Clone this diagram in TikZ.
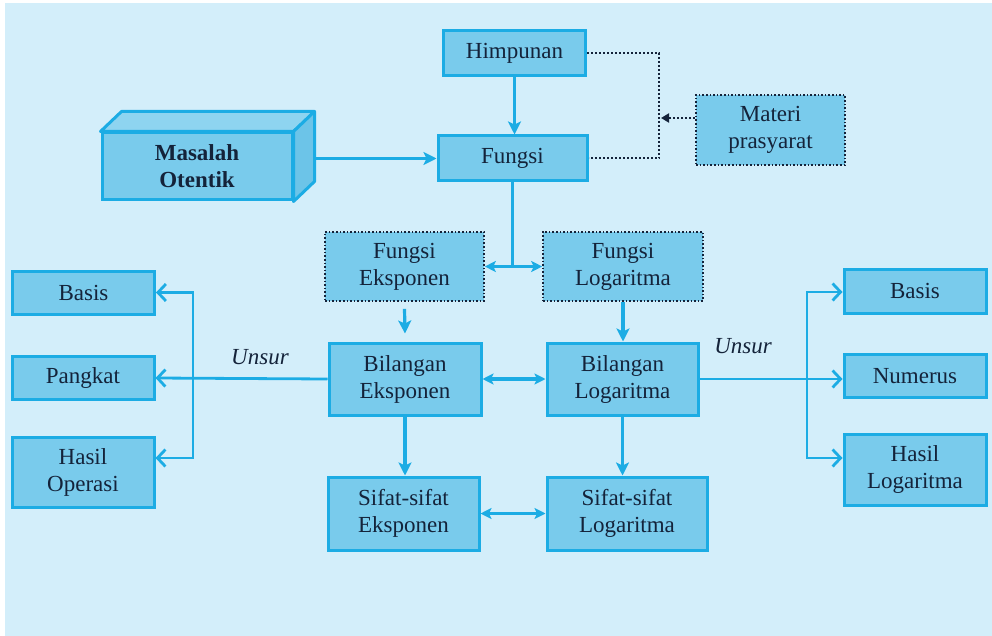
\documentclass[tikz,border=0pt]{standalone}
\usepackage{fontspec}
\setmainfont{Liberation Serif}
\usetikzlibrary{arrows.meta}
\definecolor{bgblue}{HTML}{D3EEFA}
\definecolor{boxfill}{HTML}{79CBEC}
\definecolor{boxtop}{HTML}{8ED4F0}
\definecolor{boxside}{HTML}{6CC4E8}
\definecolor{boxedge}{HTML}{1CACE4}
\definecolor{ink}{HTML}{14233A}
\begin{document}
\begin{tikzpicture}[x=1pt,y=-1pt,
  box/.style={draw=boxedge, line width=3pt, fill=boxfill, text=ink,
    font=\fontsize{23}{27}\selectfont, align=center, inner sep=0pt},
  dotbox/.style={box, draw=ink, line width=1.6pt, dotted},
  face/.style={draw=boxedge, line width=3pt, line join=round},
  link/.style={draw=boxedge, line width=3.2pt},
  flow/.style={link, -{Stealth[length=13pt,width=13pt,inset=3pt]}},
  twoway/.style={link, {Stealth[length=11pt,width=11pt,inset=2.5pt]}-{Stealth[length=11pt,width=11pt,inset=2.5pt]}},
  part/.style={draw=boxedge, line width=2.8pt, -{Straight Barb[length=8pt,width=17pt]}},
  dots/.style={draw=ink, line width=2pt, dotted},
  tag/.style={text=ink, font=\fontsize{23}{27}\selectfont\itshape}]

% page and background panel
\fill[white] (0,0) rectangle (992,636);
\fill[bgblue] (5,3) rectangle (992,636);
\useasboundingbox (0,0) rectangle (992,636);

% top row
\node[box, minimum width=142pt, minimum height=45pt] (him) at (514.5,53) {Himpunan};
\node[box, minimum width=149pt, minimum height=45pt] (fun) at (512.5,158.5) {Fungsi};
\node[dotbox, minimum width=149pt, minimum height=70pt] (mat) at (770.5,130) {Materi\\prasyarat};

% 3D block
\node[box, minimum width=190pt, minimum height=67pt, font=\fontsize{23}{27}\selectfont\bfseries] (mas) at (197,166.5) {Masalah\\Otentik};
\filldraw[face, fill=boxtop] (mas.north west) -- ++(21,-20) -- ([shift={(21,-20)}]mas.north east) -- (mas.north east) -- cycle;
\filldraw[face, fill=boxside] (mas.north east) -- ++(21,-20) -- ([shift={(21,-20)}]mas.south east) -- (mas.south east) -- cycle;

% middle rows
\node[dotbox, minimum width=159pt, minimum height=69pt] (fe) at (404.5,266.5) {Fungsi\\Eksponen};
\node[dotbox, minimum width=160pt, minimum height=69pt] (fl) at (623,266.5) {Fungsi\\Logaritma};
\node[box, minimum width=152pt, minimum height=72pt] (be) at (405,379) {Bilangan\\Eksponen};
\node[box, minimum width=151pt, minimum height=72pt] (bl) at (622.5,379) {Bilangan\\Logaritma};
\node[box, minimum width=151pt, minimum height=73pt] (se) at (403.5,513.5) {Sifat-sifat\\Eksponen};
\node[box, minimum width=160pt, minimum height=73pt] (sl) at (627,513.5) {Sifat-sifat\\Logaritma};

% left column
\node[box, minimum width=142pt, minimum height=43pt] (basl) at (83.5,292.5) {Basis};
\node[box, minimum width=142pt, minimum height=43pt] (pang) at (83,378) {Pangkat};
\node[box, minimum width=142pt, minimum height=70pt] (hop) at (83,472) {Hasil\\Operasi};

% right column
\node[box, minimum width=142pt, minimum height=44pt] (basr) at (915,291) {Basis};
\node[box, minimum width=142pt, minimum height=43pt] (num) at (915,376) {Numerus};
\node[box, minimum width=142pt, minimum height=71pt] (hlog) at (915,469.5) {Hasil\\Logaritma};

% connectors, top part
\draw[flow] (him.south) -- (him.south |- fun.north);
\draw[flow] ([xshift=21pt]mas.east |- fun.west) -- (fun.west);
\coordinate (junc) at (659,118);
\draw[dots] (him.east) -| (junc) |- (fun.east);
\draw[dots, -{Triangle[length=8pt,width=9pt]}] (mat.west |- junc) -- ([xshift=2pt]junc);

% connectors, middle part
\draw[link] (fun.south) -- (fun.south |- fe.east);
\draw[twoway] (fe.east) -- (fl.west);
\draw[flow] ([yshift=-7pt]fe.south) -- ([yshift=8pt]be.north);
\draw[flow] (fl.south) -- (fl.south |- bl.north);
\draw[twoway] (be.east) -- (bl.west);
\draw[flow] (be.south) -- (be.south |- se.north);
\draw[flow] (bl.south) -- (bl.south |- sl.north);
\draw[twoway] (se.east) -- (sl.west);

% components of exponent numbers
\coordinate (spl) at (193,378);
\draw[part] (be.west) -- (pang.east);
\draw[part] (spl) |- (basl.east);
\draw[part] (spl) |- ([yshift=14pt]hop.east);
\node[tag] (unsurl) at (260,357) {Unsur};

% components of logarithm numbers
\coordinate (spr) at (807,378);
\draw[part] (bl.east) -- (bl.east -| num.west);
\draw[part] (spr) |- ([yshift=-1pt]basr.west);
\draw[part] (spr) |- ([yshift=11.5pt]hlog.west);
\node[tag] (unsurr) at (743,346) {Unsur};
\end{tikzpicture}
\end{document}
